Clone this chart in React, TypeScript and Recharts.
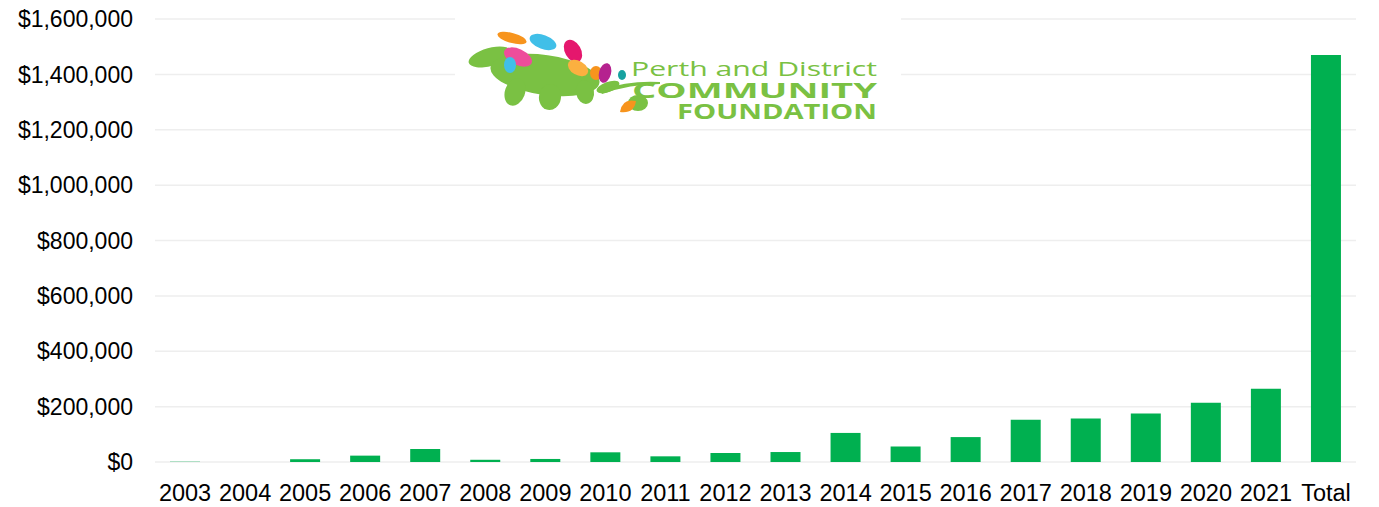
import React from 'react';
import { BarChart, Bar, XAxis, YAxis, CartesianGrid } from 'recharts';

const years = ['2003', '2004', '2005', '2006', '2007', '2008', '2009', '2010', '2011', '2012', '2013', '2014', '2015', '2016', '2017', '2018', '2019', '2020', '2021', 'Total'];
const amounts = [1000, 0, 10000, 23000, 47000, 8000, 11000, 35000, 20500, 32500, 36000, 105000, 56000, 90000, 153000, 157000, 175000, 214000, 265000, 1470000];
const yTicks = [0, 200000, 400000, 600000, 800000, 1000000, 1200000, 1400000, 1600000];

const data = years.map((year, i) => ({ year, amount: amounts[i] }));

const GREEN = '#00b050';
const LOGO_GREEN = '#7ac143';
const FONT = "'Liberation Sans', Arial, sans-serif";

const money = (v: number) => '$' + v.toLocaleString('en-US');

// Logo overlay (decoration only)
function Logo() {
    return (
        <svg width={1379} height={507} style={{ position: 'absolute', left: 0, top: 0, pointerEvents: 'none' }}>
            <rect x={455} y={5} width={446} height={124} fill="#ffffff" />
            {/* leaf */}
            <g fill={LOGO_GREEN}>
                <ellipse cx={490} cy={57} rx={22} ry={9} transform="rotate(-15 490 57)" />
                <ellipse cx={545} cy={75} rx={55} ry={20} transform="rotate(8 545 75)" />
                <ellipse cx={515} cy={92} rx={10} ry={14} transform="rotate(20 515 92)" />
                <ellipse cx={550} cy={97} rx={11} ry={13} transform="rotate(10 550 97)" />
                <ellipse cx={585} cy={92} rx={9} ry={12} transform="rotate(-10 585 92)" />
                <ellipse cx={608} cy={87} rx={12} ry={5} transform="rotate(-20 608 87)" />
                <path d="M600 90 Q630 80 660 82 L660 84 Q630 84 602 94 Z" />
                <ellipse cx={638} cy={103} rx={10} ry={8} />
            </g>
            <path d="M620 112 Q622 98 636 101 Q634 114 620 112 Z" fill="#f7941d" />
            {/* drops */}
            <ellipse cx={512} cy={38} rx={15} ry={5} fill="#f7941d" transform="rotate(15 512 38)" />
            <ellipse cx={543} cy={42} rx={14} ry={7} fill="#40bfe8" transform="rotate(20 543 42)" />
            <ellipse cx={573} cy={51} rx={8} ry={12} fill="#e5176d" transform="rotate(-30 573 51)" />
            <ellipse cx={518} cy={57} rx={15} ry={8} fill="#ee4d9b" transform="rotate(25 518 57)" />
            <ellipse cx={510} cy={65} rx={6} ry={8} fill="#40bfe8" />
            <ellipse cx={578} cy={68} rx={11} ry={7} fill="#fbb040" transform="rotate(30 578 68)" />
            <ellipse cx={596} cy={73} rx={6} ry={7} fill="#f7941d" />
            <ellipse cx={605} cy={73} rx={6} ry={10} fill="#b5228f" transform="rotate(15 605 73)" />
            <ellipse cx={622} cy={75} rx={4} ry={5} fill="#17a2a0" />
            {/* text */}
            <g fill={LOGO_GREEN} fontFamily="'Open Sans', sans-serif">
                <text x={631} y={76} fontSize={20} textLength={246} lengthAdjust="spacingAndGlyphs">Perth and District</text>
                <text x={632} y={98} fontSize={21} fontWeight={700} textLength={245} lengthAdjust="spacingAndGlyphs">COMMUNITY</text>
                <text x={677} y={119} fontSize={21} fontWeight={700} textLength={200} lengthAdjust="spacingAndGlyphs">FOUNDATION</text>
            </g>
        </svg>
    );
}

export default function App() {
    return (
        <div style={{ position: 'absolute', left: 0, top: 0, width: 1379, height: 507, background: '#ffffff' }}>
            <BarChart
                width={1379}
                height={507}
                data={data}
                margin={{ top: 19, right: 23, left: 0, bottom: 0 }}
            >
                <CartesianGrid vertical={false} stroke="#eeeeee" strokeWidth={1.5} />
                <XAxis
                    dataKey="year"
                    axisLine={false}
                    tickLine={false}
                    tickMargin={16}
                    height={45}
                    interval={0}
                    tick={{ fill: '#000000', fontSize: 23.5, fontFamily: FONT }}
                />
                <YAxis
                    domain={[0, 1600000]}
                    ticks={yTicks}
                    tickFormatter={money}
                    axisLine={false}
                    tickLine={false}
                    tickSize={0}
                    tickMargin={22}
                    width={155}
                    tick={{ fill: '#000000', fontSize: 23, fontFamily: FONT }}
                />
                <Bar dataKey="amount" fill={GREEN} barSize={30} isAnimationActive={false} />
            </BarChart>
            <Logo />
        </div>
    );
}
